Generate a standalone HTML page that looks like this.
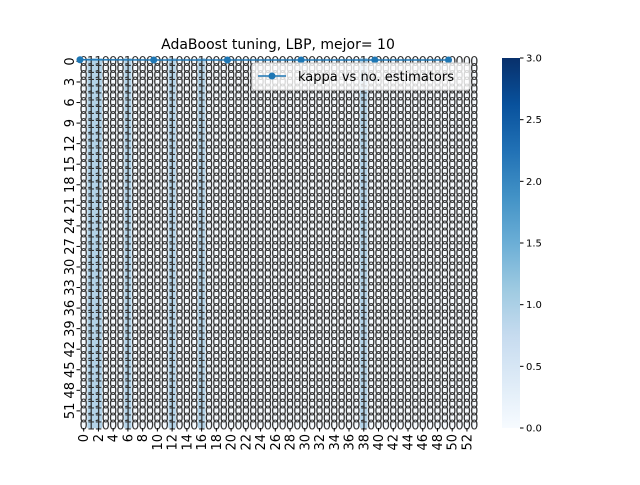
<!DOCTYPE html>
<html><head><meta charset="utf-8"><style>
body{margin:0;background:#fff;width:640px;height:480px;overflow:hidden}
text{font-family:"DejaVu Sans","Liberation Sans",sans-serif}
</style></head><body>
<svg id="s" width="640" height="480" xmlns="http://www.w3.org/2000/svg">
<defs><linearGradient id="blues" x1="0" y1="1" x2="0" y2="0">
<stop offset="0" stop-color="#f7fbff"/><stop offset="0.125" stop-color="#deebf7"/><stop offset="0.25" stop-color="#c6dbef"/><stop offset="0.375" stop-color="#9ecae1"/><stop offset="0.5" stop-color="#6baed6"/><stop offset="0.625" stop-color="#4292c6"/><stop offset="0.75" stop-color="#2171b5"/><stop offset="0.875" stop-color="#08519c"/><stop offset="1" stop-color="#08306b"/></linearGradient></defs>
<text x="278" y="49" font-size="14" text-anchor="middle">AdaBoost tuning, LBP, mejor= 10</text>
<g id="cells"></g><g id="annots"></g><g id="xt"></g><g id="yt"></g><g id="line"></g>
<rect x="502" y="58" width="18" height="370" fill="url(#blues)"/>
<g id="cbt"></g>
<g>
<rect x="252" y="63" width="218" height="27" rx="3" fill="#fff" fill-opacity="0.8" stroke="#ccc"/>
<line x1="258" y1="76" x2="286" y2="76" stroke="#1f77b4" stroke-width="1.5"/>
<circle cx="272" cy="76" r="3.5" fill="#1f77b4"/>
<text x="298" y="81" font-size="13">kappa vs no. estimators</text>
</g>
</svg>
<script>
const ncols=54, nrows=54;
const baseRow="011000100000100010000000000000000000001000000000000000";
const rows=[];for(let i=0;i<nrows;i++)rows.push(baseRow);
const estimators=[0,10,20,30,40,50];
const kappa=[0.25,0.3,0.3,0.3,0.3,0.3];
const cbTicks=[0,0.5,1,1.5,2,2.5,3];
const X0=80,X1=478,Y0=58,Y1=428;
const cw=(X1-X0)/ncols, ch=(Y1-Y0)/nrows;
const xs=c=>X0+c*cw, ys=r=>Y0+r*ch;
const colors=["#f7fbff","#b3d3e8","#4a98c9","#08306b"];
const NS="http://www.w3.org/2000/svg";
function mk(t,a,p){const e=document.createElementNS(NS,t);for(const k in a)e.setAttribute(k,a[k]);p.appendChild(e);return e;}
const cells=document.getElementById('cells'),ann=document.getElementById('annots');
rows.forEach((row,r)=>{for(let c=0;c<ncols;c++){const v=+row[c];
const e=mk('rect',{x:xs(c),y:ys(r),width:cw+0.3,height:ch+0.3,fill:colors[v]},cells);


const t=mk('text',{x:xs(c+0.5),y:ys(r+0.5)+4.7,'font-size':13,'text-anchor':'middle',fill:'#333'},ann);
t.textContent=v;

}});
const xt=document.getElementById('xt');
for(let c=0;c<ncols;c+=2){mk('line',{x1:xs(c+0.5),x2:xs(c+0.5),y1:Y1,y2:Y1+3.5,stroke:'#000'},xt);
const t=mk('text',{x:0,y:0,'font-size':13,'text-anchor':'end',transform:`translate(${xs(c+0.5)+4.5},${Y1+6}) rotate(-90)`},xt);t.textContent=c;

}
const yt=document.getElementById('yt');
for(let r=0;r<nrows;r+=3){mk('line',{x1:X0-3.5,x2:X0,y1:ys(r+0.5),y2:ys(r+0.5),stroke:'#000'},yt);
const t=mk('text',{x:0,y:0,'font-size':13,'text-anchor':'middle',transform:`translate(${X0-6},${ys(r+0.5)}) rotate(-90)`},yt);t.textContent=r;

}
const lg=document.getElementById('line');
const pts=estimators.map((e,i)=>[xs(e),ys(kappa[i])]);
const pl=mk('polyline',{points:pts.map(p=>p.join(',')).join(' '),fill:'none',stroke:'#1f77b4','stroke-width':1.5},lg);


pts.forEach(p=>{const c=mk('circle',{cx:p[0],cy:p[1],r:3.5,fill:'#1f77b4'},lg);

});
const cb=document.getElementById('cbt');
cbTicks.forEach(v=>{const y=Y1-v/3*(Y1-Y0);mk('line',{x1:520,x2:523.5,y1:y,y2:y,stroke:'#000'},cb);
const t=mk('text',{x:526,y:y+3.5,'font-size':10},cb);t.textContent=v.toFixed(1);

});
</script>
</body></html>
